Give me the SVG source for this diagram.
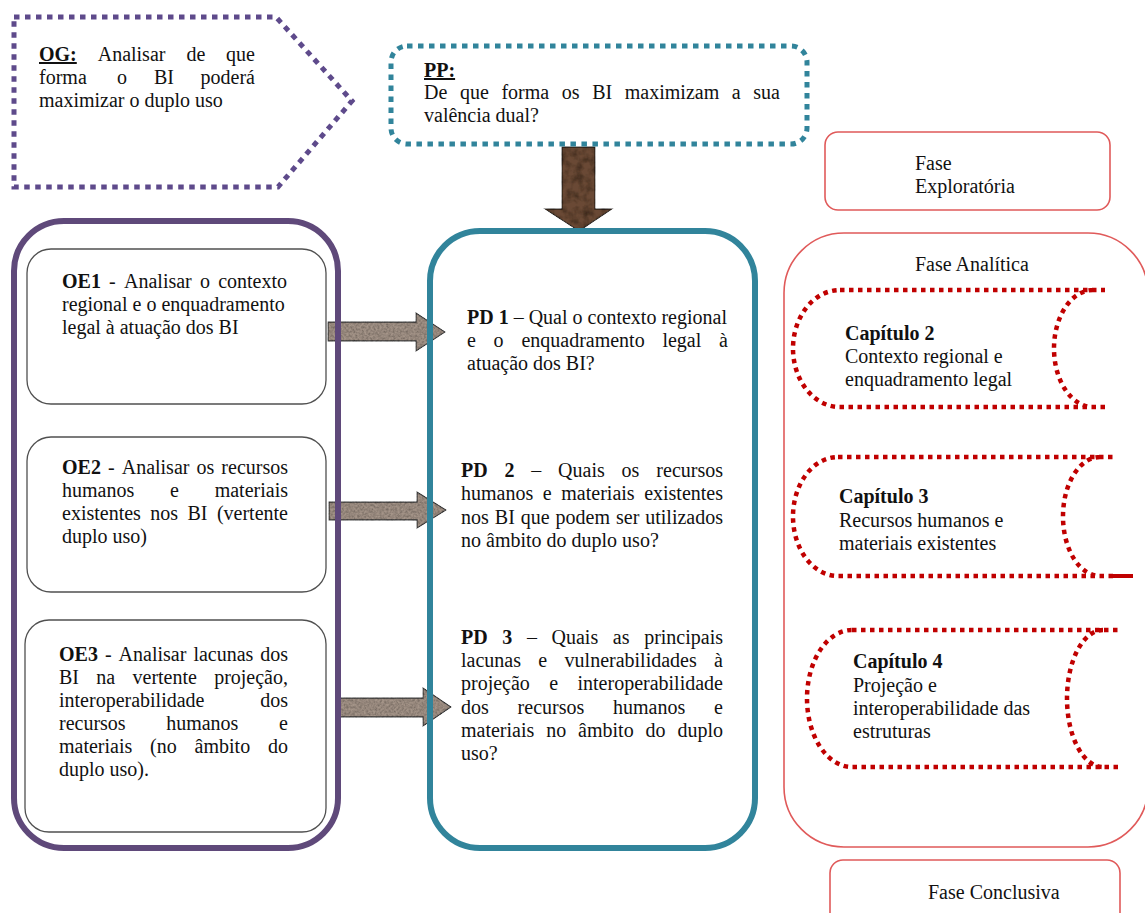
<svg xmlns="http://www.w3.org/2000/svg" width="1145" height="913" viewBox="0 0 1145 913">
<defs>
<style>
text{font-family:"Liberation Serif","Times New Roman",serif;font-size:20px;fill:#111;}
.b{font-weight:bold;}
.u{text-decoration:underline;}
.e{text-anchor:end;}
.phase{fill:none;stroke:#E05A5A;stroke-width:1.6;}
.chap{fill:none;stroke:#C00000;stroke-width:4.5;stroke-dasharray:4.5 4.5;}
.oe{fill:#fff;stroke:#505050;stroke-width:1.3;}
.garrow{fill:#A49488;stroke:#3c3c3c;stroke-width:1.3;filter:url(#tex);}
</style>
<filter id="tex" x="-5%" y="-5%" width="110%" height="110%">
<feTurbulence type="fractalNoise" baseFrequency="0.45" numOctaves="2" seed="7" result="noise"/>
<feColorMatrix in="noise" type="matrix" values="0.9 0 0 0 0.35  0.9 0 0 0 0.35  0.9 0 0 0 0.35  0 0 0 0 1" result="gray"/>
<feBlend in="SourceGraphic" in2="gray" mode="multiply" result="b"/>
<feComposite in="b" in2="SourceAlpha" operator="in"/>
</filter>
<filter id="tex2" x="-5%" y="-5%" width="110%" height="110%">
<feTurbulence type="fractalNoise" baseFrequency="0.12" numOctaves="3" seed="3" result="noise"/>
<feColorMatrix in="noise" type="matrix" values="1.2 0 0 0 0.2  1.2 0 0 0 0.2  1.2 0 0 0 0.2  0 0 0 0 1" result="gray"/>
<feBlend in="SourceGraphic" in2="gray" mode="multiply" result="b"/>
<feComposite in="b" in2="SourceAlpha" operator="in"/>
</filter>
</defs>
<rect width="1145" height="913" fill="#fff"/>

<g id="connectors">
<polygon id="arrow-pp" points="562,147 595,147 595,209 612,209 579,231 545,209 562,209" fill="#6B4A35" stroke="#2e2218" stroke-width="1.3" filter="url(#tex2)"/>
<polygon id="arrow-1" class="garrow" points="328,322 416,322 416,313 445,332 416,351 416,341 328,341"/>
<polygon id="arrow-2" class="garrow" points="329,502 417,502 417,492 446,510 417,528 417,520 329,520"/>
<polygon id="arrow-3" class="garrow" points="337,698 423,698 423,688 451,707 423,726 423,717 337,717"/>
</g>

<g id="og">
<polygon points="14,17 276,17 352,101 278,187 14,187" fill="none" stroke="#5E4A8B" stroke-width="5" stroke-dasharray="5.5 5.5"/>
<text y="61"><tspan x="39" class="b u">OG:</tspan><tspan x="97.7">Analisar</tspan><tspan x="186.4">de</tspan><tspan x="255" class="e">que</tspan></text>
<text y="84"><tspan x="39">forma</tspan><tspan x="117">o</tspan><tspan x="154">BI</tspan><tspan x="255" class="e">poderá</tspan></text>
<text x="39" y="107">maximizar o duplo uso</text>
</g>

<g id="pp">
<rect x="391" y="46" width="416" height="98" rx="16" fill="none" stroke="#31849B" stroke-width="5" stroke-dasharray="5.5 5.5"/>
<text x="424" y="77" class="b u">PP:</text>
<text y="99"><tspan x="424">De</tspan><tspan x="459.9">que</tspan><tspan x="501.4">forma</tspan><tspan x="561.8">os</tspan><tspan x="592.2">BI</tspan><tspan x="624.8">maximizam</tspan><tspan x="731.8">a</tspan><tspan x="780" class="e">sua</tspan></text>
<text x="424" y="122">valência dual?</text>
</g>

<g id="fase-exploratoria">
<rect x="825" y="132" width="285" height="78" rx="13" class="phase"/>
<text x="915" y="170">Fase</text>
<text x="915" y="193">Exploratória</text>
</g>

<g id="objetivos">
<rect x="14" y="221" width="324" height="627" rx="50" fill="none" stroke="#5F497A" stroke-width="6"/>
</g>

<g id="oe1">
<rect x="27" y="249" width="299" height="155" rx="24" class="oe"/>
<text y="288"><tspan x="62" class="b">OE1</tspan><tspan x="109.1">-</tspan><tspan x="124">Analisar</tspan><tspan x="200">o</tspan><tspan x="287" class="e">contexto</tspan></text>
<text x="62" y="311">regional e o enquadramento</text>
<text x="62" y="334">legal à atuação dos BI</text>
</g>

<g id="oe2">
<rect x="27" y="437" width="299" height="155" rx="24" class="oe"/>
<text y="474"><tspan x="62" class="b">OE2</tspan><tspan x="108">-</tspan><tspan x="121.7">Analisar</tspan><tspan x="196.5">os</tspan><tspan x="288" class="e">recursos</tspan></text>
<text y="497"><tspan x="62">humanos</tspan><tspan x="170">e</tspan><tspan x="288" class="e">materiais</tspan></text>
<text y="520"><tspan x="62">existentes</tspan><tspan x="150.3">nos</tspan><tspan x="187.5">BI</tspan><tspan x="288" class="e">(vertente</tspan></text>
<text x="62" y="543">duplo uso)</text>
</g>

<g id="oe3">
<rect x="25" y="620" width="301" height="212" rx="24" class="oe"/>
<text y="661"><tspan x="59" class="b">OE3</tspan><tspan x="104.9">-</tspan><tspan x="118.6">Analisar</tspan><tspan x="193.4">lacunas</tspan><tspan x="288" class="e">dos</tspan></text>
<text y="684"><tspan x="59">BI</tspan><tspan x="96.3">na</tspan><tspan x="132.5">vertente</tspan><tspan x="288" class="e">projeção,</tspan></text>
<text y="707"><tspan x="59">interoperabilidade</tspan><tspan x="288" class="e">dos</tspan></text>
<text y="730"><tspan x="59">recursos</tspan><tspan x="166.2">humanos</tspan><tspan x="288" class="e">e</tspan></text>
<text y="753"><tspan x="59">materiais</tspan><tspan x="150.1">(no</tspan><tspan x="194.6">âmbito</tspan><tspan x="288" class="e">do</tspan></text>
<text x="59" y="776">duplo uso).</text>
</g>

<g id="perguntas">
<rect x="430" y="231" width="325" height="617" rx="50" fill="none" stroke="#31849B" stroke-width="6"/>
</g>

<g id="pd1">
<text x="467" y="324"><tspan class="b">PD 1</tspan> – Qual o contexto regional</text>
<text y="347"><tspan x="467">e</tspan><tspan x="493.6">o</tspan><tspan x="521.4">enquadramento</tspan><tspan x="662.4">legal</tspan><tspan x="728" class="e">à</tspan></text>
<text x="467" y="370">atuação dos BI?</text>
</g>

<g id="pd2">
<text y="477"><tspan x="461" class="b">PD</tspan><tspan x="504.5" class="b">2</tspan><tspan x="531.3">–</tspan><tspan x="558.1">Quais</tspan><tspan x="621.6">os</tspan><tspan x="723" class="e">recursos</tspan></text>
<text y="500"><tspan x="461">humanos</tspan><tspan x="542.8">e</tspan><tspan x="561.3">materiais</tspan><tspan x="723" class="e">existentes</tspan></text>
<text y="524"><tspan x="461">nos</tspan><tspan x="494.8">BI</tspan><tspan x="520.7">que</tspan><tspan x="555.6">podem</tspan><tspan x="616">ser</tspan><tspan x="723" class="e">utilizados</tspan></text>
<text x="461" y="547">no âmbito do duplo uso?</text>
</g>

<g id="pd3">
<text y="644"><tspan x="461" class="b">PD</tspan><tspan x="502.3" class="b">3</tspan><tspan x="526.9">–</tspan><tspan x="551.5">Quais</tspan><tspan x="612.8">as</tspan><tspan x="723" class="e">principais</tspan></text>
<text y="667"><tspan x="461">lacunas</tspan><tspan x="538.3">e</tspan><tspan x="564.6">vulnerabilidades</tspan><tspan x="723" class="e">à</tspan></text>
<text y="690"><tspan x="461">projeção</tspan><tspan x="549.2">e</tspan><tspan x="723" class="e">interoperabilidade</tspan></text>
<text y="714"><tspan x="461">dos</tspan><tspan x="517.6">recursos</tspan><tspan x="613">humanos</tspan><tspan x="723" class="e">e</tspan></text>
<text y="737"><tspan x="461">materiais</tspan><tspan x="546.2">no</tspan><tspan x="578.1">âmbito</tspan><tspan x="645.6">do</tspan><tspan x="723" class="e">duplo</tspan></text>
<text x="461" y="760">uso?</text>
</g>

<g id="fase-analitica">
<rect x="784" y="233" width="364" height="614" rx="60" class="phase"/>
<text x="915" y="271">Fase Analítica</text>
</g>

<g id="capitulo-2">
<path class="chap" d="M840,290 H1105 M1093,290 A39,58.5 0 0 0 1093,407 M1105,407 H840 A47,58.5 0 0 1 840,290"/>
<text x="845" y="340" class="b">Capítulo 2</text>
<text x="845" y="363">Contexto regional e</text>
<text x="845" y="386">enquadramento legal</text>
</g>

<g id="capitulo-3">
<path class="chap" d="M838,457 H1113 M1100,457 A37,59.5 0 0 0 1100,576 M1113,576 H838 A45,59.5 0 0 1 838,457"/>
<line x1="1110" y1="576" x2="1133" y2="576" stroke="#C00000" stroke-width="4"/>
<text x="839" y="503" class="b">Capítulo 3</text>
<text x="839" y="527">Recursos humanos e</text>
<text x="839" y="550">materiais existentes</text>
</g>

<g id="capitulo-4">
<path class="chap" d="M852,630 H1118 M1103,630 A36,68.5 0 0 0 1103,767 M1118,767 H852 A45,68.5 0 0 1 852,630"/>
<text x="853" y="668" class="b">Capítulo 4</text>
<text x="853" y="692">Projeção e</text>
<text x="853" y="715">interoperabilidade das</text>
<text x="853" y="738">estruturas</text>
</g>

<g id="fase-conclusiva">
<rect x="830" y="860" width="290" height="70" rx="13" class="phase"/>
<text x="928" y="899">Fase Conclusiva</text>
</g>
</svg>
